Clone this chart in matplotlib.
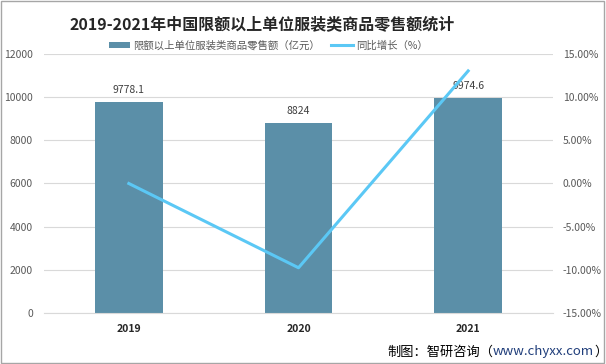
import matplotlib
matplotlib.use("Agg")
import numpy as np
from matplotlib import pyplot as plt

plt.rcParams["font.family"] = ["Noto Sans CJK SC", "DejaVu Sans"]

years = ["2019", "2020", "2021"]
sales = [9778.1, 8824, 9974.6]          # 亿元
growth = [0.0, -9.76, 13.04]            # %

BAR_COLOR = "#5B8FA8"
LINE_COLOR = "#5BC8F5"
GRID_COLOR = "#D9D9D9"
TICK_COLOR = "#595959"

fig = plt.figure(figsize=(6.06, 3.64), dpi=100)
ax = fig.add_axes([44 / 606, 51 / 364, 509 / 606, 259 / 364])
ax2 = ax.twinx()

x = np.arange(len(years))
bars = ax.bar(x, sales, width=0.40, color=BAR_COLOR, zorder=2,
              label="限额以上单位服装类商品零售额（亿元）")
for xi, v in zip(x, sales):
    ax.text(xi, v + 300, f"{v:g}", ha="center", va="bottom",
            fontsize=7.5, color="#404040")

ax.set_xlim(-0.5, len(years) - 0.5)
ax.set_ylim(0, 12000)
ax.set_yticks(range(0, 12001, 2000))
ax.set_xticks(x)
ax.set_xticklabels(years, fontsize=7.5, fontweight="bold", color="#262626")
ax.tick_params(axis="y", labelsize=7.5, colors=TICK_COLOR, length=0, pad=8)
ax.tick_params(axis="x", length=0, pad=8)
ax.grid(axis="y", color=GRID_COLOR, linewidth=0.8, zorder=0)
ax.set_axisbelow(True)
for s in ax.spines.values():
    s.set_visible(False)
ax.spines["bottom"].set_visible(True)
ax.spines["bottom"].set_color(GRID_COLOR)

line, = ax2.plot(x, growth, color=LINE_COLOR, linewidth=2.2, zorder=3,
                 label="同比增长（%）")
ax2.set_ylim(-15, 15)
ax2.set_yticks(range(-15, 16, 5))
ax2.set_yticklabels([f"{t:.2f}%" for t in range(-15, 16, 5)])
ax2.tick_params(axis="y", labelsize=7.5, colors=TICK_COLOR, length=0, pad=7)
for s in ax2.spines.values():
    s.set_visible(False)

fig.text(262 / 606, 0.935, "2019-2021年中国限额以上单位服装类商品零售额统计",
         ha="center", va="center", fontsize=11.5, fontweight="bold",
         color="#262626")
fig.legend([bars, line], [bars.get_label(), line.get_label()],
           loc="center", bbox_to_anchor=(268 / 606, 0.875), ncol=2,
           frameon=False, fontsize=7.5, handlelength=2.1, handleheight=0.5,
           handletextpad=0.3, columnspacing=1.0, labelcolor="#595959")

# source note, pieces laid out one after another
renderer = fig.canvas.get_renderer()
xpos = 387 / 606
for piece, col in [("制图：智研咨询（", "black"), ("www.chyxx.com", "#1F3D7A"),
                   ("）", "black")]:
    t = fig.text(xpos, 0.033, piece, fontsize=9.5, color=col,
                 ha="left", va="center")
    bb = t.get_window_extent(renderer)
    xpos += bb.width / fig.bbox.width

fig.patches.append(plt.Rectangle((0.002, 0.003), 0.995, 0.994,
                                 transform=fig.transFigure, fill=False,
                                 edgecolor="#A6A6A6", linewidth=1.0))

fig.savefig("out.png", dpi=100)
